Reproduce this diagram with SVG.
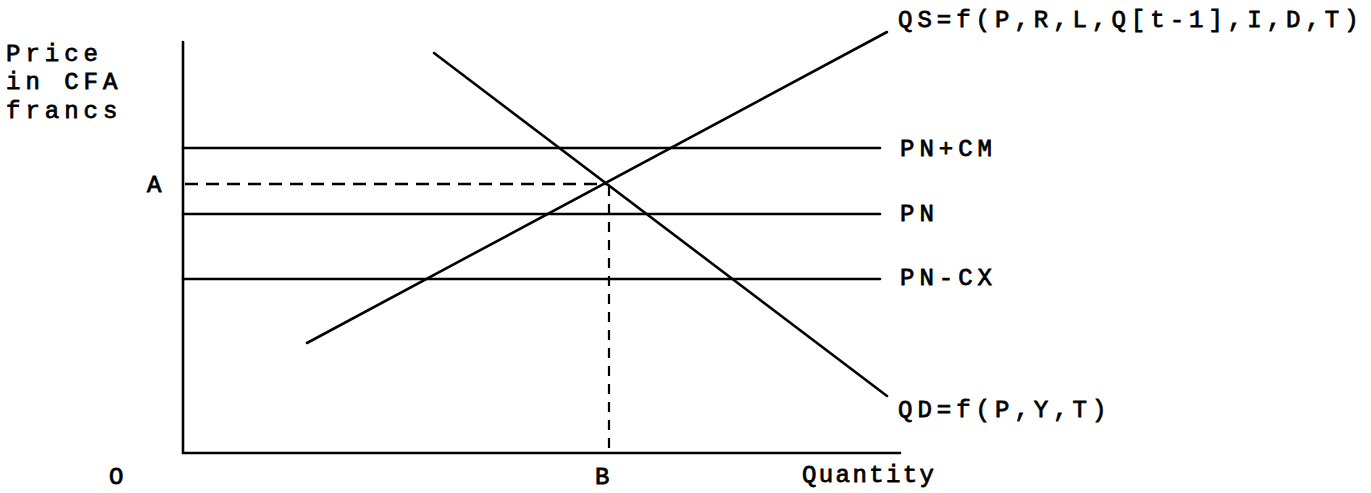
<svg xmlns="http://www.w3.org/2000/svg" width="1371" height="493" viewBox="0 0 1371 493">
<style>
.ln{stroke:#000;stroke-width:2.6;fill:none;stroke-linecap:round}
.dh{stroke:#000;stroke-width:2.4;fill:none;stroke-dasharray:13 8}
.dv{stroke:#000;stroke-width:2.2;fill:none;stroke-dasharray:10 8}
text{font-family:"Liberation Mono","Courier New",monospace;font-size:24px;letter-spacing:5px;fill:#000;stroke:#000;stroke-width:0.8}
.q{letter-spacing:2.4px}
</style>
<rect width="1371" height="493" fill="#fff"/>
<g id="axes">
<path class="ln" d="M183,42 V453 H900"/>
<text x="6" y="61">Price</text>
<text x="6" y="89">in CFA</text>
<text x="6" y="118">francs</text>
<text x="109" y="484">O</text>
<text x="595" y="484">B</text>
<text class="q" x="802" y="482">Quantity</text>
<text x="147" y="192">A</text>
</g>
<g id="connectors">
<line class="dh" x1="185" y1="184" x2="607" y2="184"/>
<line class="dv" x1="609" y1="186" x2="609" y2="453"/>
</g>
<g id="pncm"><line class="ln" x1="183" y1="148" x2="880" y2="148"/><text x="900" y="156">PN+CM</text></g>
<g id="pn"><line class="ln" x1="183" y1="214" x2="880" y2="214"/><text x="900" y="221">PN</text></g>
<g id="pncx"><line class="ln" x1="183" y1="279" x2="880" y2="279"/><text x="900" y="285">PN-CX</text></g>
<g id="supply"><line class="ln" x1="307" y1="343" x2="887" y2="32"/><text x="898" y="27">QS=f(P,R,L,Q[t-1],I,D,T)</text></g>
<g id="demand"><line class="ln" x1="434" y1="53" x2="887" y2="396"/><text x="898" y="417">QD=f(P,Y,T)</text></g>
</svg>
